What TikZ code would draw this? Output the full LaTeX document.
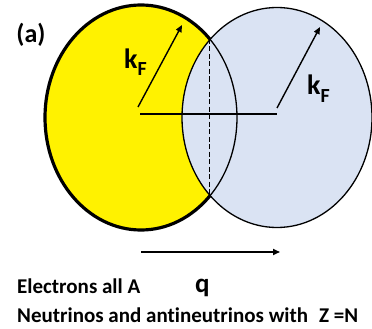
\documentclass[tikz,border=0pt]{standalone}
\usepackage{fontspec}
\setmainfont{Carlito}[Ligatures=NoCommon]
\usetikzlibrary{arrows.meta}
\definecolor{fillblue}{HTML}{DAE3F3}
\begin{document}
\begin{tikzpicture}[x=1pt,y=-1pt,
  txt/.style={font=\bfseries\fontsize{21}{25}\selectfont, inner sep=0pt, anchor=base west},
  kf/.style={font=\bfseries\fontsize{28}{30}\selectfont, inner sep=0pt, anchor=base west},
  vec/.style={-{Triangle[length=7pt,width=6pt]}, line width=1.4pt},
  thin outline/.style={line width=1.3pt}]
\useasboundingbox (0,0) rectangle (372,329);
\coordinate (cL) at (141,117.5);
\coordinate (cR) at (277,117.5);
% spheres
\draw[line width=3.2pt, fill=yellow] (cL) ellipse [x radius=96pt, y radius=112.5pt];
\draw[thin outline, fill=fillblue] (cR) ellipse [x radius=95pt, y radius=110pt];
\draw[thin outline] (cL) ellipse [x radius=96pt, y radius=112.5pt];
% chord and axis
\coordinate (top) at (209,39);
\coordinate (bot) at (209,194);
\draw[line width=1pt, dash pattern=on 5pt off 2.5pt] (top) -- (bot);
\coordinate (lS) at (140,114);
\coordinate (lE) at (277,114);
\draw[line width=1.5pt] (lS) -- (lE);
% radius vectors
\coordinate (aT) at (138,107);
\coordinate (aH) at (182,25);
\coordinate (bT) at (277,108);
\coordinate (bH) at (320,27);
\draw[vec] (aT) -- (aH);
\draw[vec] (bT) -- (bH);
% labels
\node[kf] (kL) at (124,68) {k\raisebox{-7pt}{\fontsize{20}{20}\selectfont F}};
\node[kf] (kR) at (307,95) {k\raisebox{-7pt}{\fontsize{20}{20}\selectfont F}};
\node[font=\bfseries\fontsize{26}{28}\selectfont, inner sep=0pt] (a) at (31,35) {(a)};
% q arrow
\coordinate (qS) at (141,252);
\coordinate (qE) at (280,252);
\draw[-{Triangle[length=7pt,width=6pt]}, line width=1.6pt] (qS) -- (qE);
\node[font=\bfseries\fontsize{27}{29}\selectfont, inner sep=0pt, anchor=base west] (q) at (195,292) {q};
\node[txt] (t1) at (17,293) {Electrons all A};
\node[txt] (t2) at (17,322) {Neutrinos and antineutrinos with\hspace{11pt}Z =N};
\end{tikzpicture}
\end{document}
